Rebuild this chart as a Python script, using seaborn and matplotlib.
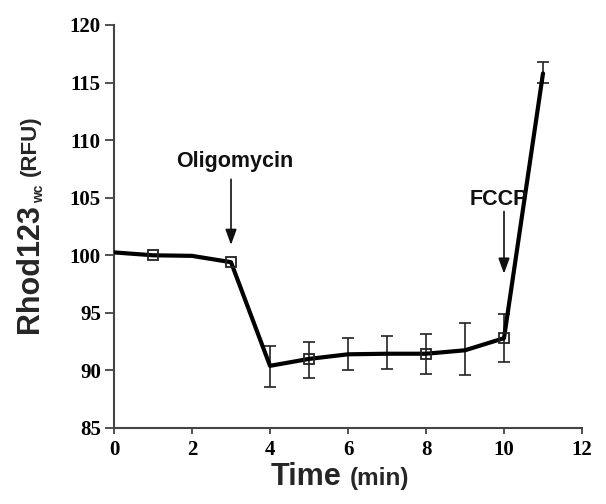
import numpy as np
import pandas as pd
import matplotlib
matplotlib.use("Agg")
import matplotlib.pyplot as plt
import seaborn as sns

# Data
time_min = [0, 1, 2, 3, 4, 5, 6, 7, 8, 9, 10, 11]
rhod = [100.25, 100.0, 99.95, 99.4, 90.4, 91.0, 91.4, 91.45, 91.45, 91.75, 92.8, 115.8]
err_low = [None, None, None, None, 88.6, 89.3, 90.0, 90.1, 89.7, 89.6, 90.7, 115.0]
err_high = [None, None, None, None, 92.1, 92.5, 92.8, 93.0, 93.2, 94.1, 94.9, 116.8]
marker_idx = [1, 3, 5, 8, 10]
x_ticks = [0, 2, 4, 6, 8, 10, 12]
y_ticks = [85, 90, 95, 100, 105, 110, 115, 120]
events = ["Oligomycin", "FCCP"]
event_time = [3, 10]

sns.set_style("ticks")
plt.rcParams["font.family"] = ["Liberation Sans", "DejaVu Sans"]

fig = plt.figure(figsize=(6.06, 5.04), dpi=100)
ax = fig.add_axes([114 / 606, 1 - 428 / 504, (582 - 114) / 606, (428 - 25) / 504])

df = pd.DataFrame({"time": time_min, "rhod": rhod})
sns.lineplot(data=df, x="time", y="rhod", ax=ax, color="black", lw=3.0,
             marker="s", markevery=marker_idx, markersize=7,
             markerfacecolor="none", markeredgecolor="#222222",
             markeredgewidth=1.3, zorder=3)

# error bars
ex, ey, lo, hi = [], [], [], []
for t, v, l, h in zip(time_min, rhod, err_low, err_high):
    if l is not None:
        ex.append(t); ey.append(v); lo.append(v - l); hi.append(h - v)
ax.errorbar(ex, ey, yerr=[lo, hi], fmt="none", ecolor="#222222",
            elinewidth=1.2, capsize=4.5, capthick=1.2, zorder=2)

ax.set_xlim(0, 12)
ax.set_ylim(85, 120)
ax.set_xticks(x_ticks)
ax.set_yticks(y_ticks)
tick_font = dict(family="Liberation Serif", weight="bold", size=15)
ax.set_xticklabels([str(t) for t in x_ticks], fontdict=tick_font)
ax.set_yticklabels([str(t) for t in y_ticks], fontdict=tick_font)
ax.tick_params(axis="both", direction="out", color="#444444", width=1.3,
               labelcolor="black")
ax.tick_params(axis="y", length=6.5, pad=3)
ax.tick_params(axis="x", length=4.5, pad=4)
for s in ["left", "bottom"]:
    ax.spines[s].set_color("#444444")
    ax.spines[s].set_linewidth(1.5)
sns.despine(ax=ax)
ax.set_xlabel("")
ax.set_ylabel("")

# event arrows
arrow_top = [106.6, 103.8]
arrow_tip = [100.9, 98.4]
label_y = [107.7, 104.4]
label_x = [3.1, 9.87]
for name, t, ytop, ytip, lx, ly in zip(events, event_time, arrow_top, arrow_tip, label_x, label_y):
    ax.annotate("", xy=(t, ytip), xytext=(t, ytop),
                arrowprops=dict(arrowstyle="-|>,head_length=0.55,head_width=0.2",
                                mutation_scale=17, lw=1.2, color="#111111",
                                shrinkA=0, shrinkB=0))
    ax.text(lx, ly, name, ha="center", va="baseline", fontsize=15.5,
            fontweight="bold", color="#111111")

# axis labels (pixel positions converted to figure fractions)
W, H = 606, 504
fig.text(271 / W, 1 - 485 / H, "Time", fontsize=22, fontweight="bold",
         ha="left", va="baseline")
fig.text(350 / W, 1 - 485 / H, "(min)", fontsize=17.5, fontweight="bold",
         ha="left", va="baseline")
fig.text(38 / W, 1 - 333 / H, "Rhod123", fontsize=22, fontweight="bold",
         rotation=90, rotation_mode="anchor", ha="left", va="baseline")
fig.text(43 / W, 1 - 203 / H, "wc", fontsize=10, fontweight="bold",
         rotation=90, rotation_mode="anchor", ha="left", va="baseline")
fig.text(36 / W, 1 - 176 / H, "(RFU)", fontsize=16, fontweight="bold",
         rotation=90, rotation_mode="anchor", ha="left", va="baseline")

fig.savefig("out.png", dpi=100, facecolor="white")
